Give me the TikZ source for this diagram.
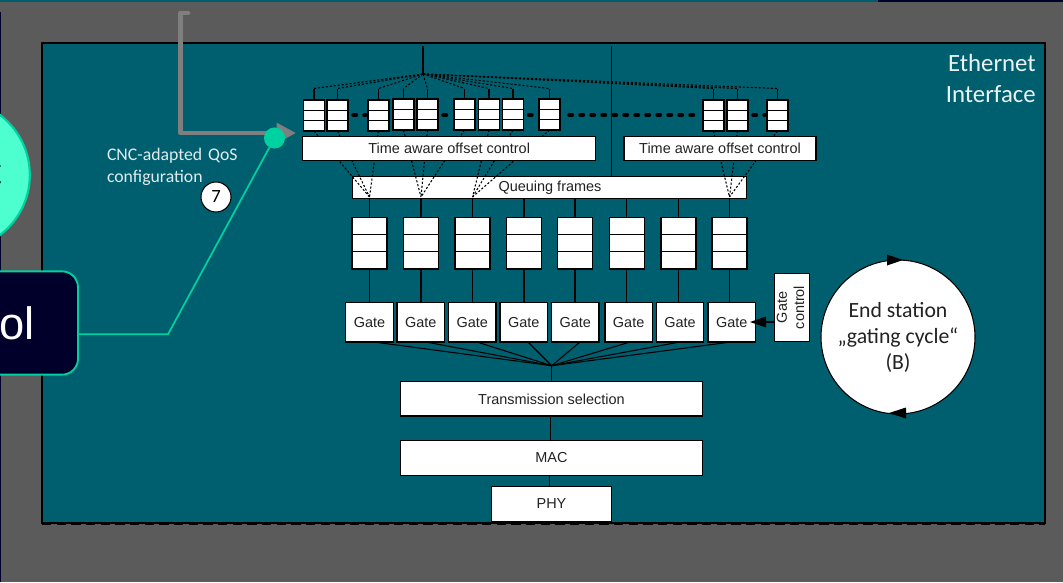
\documentclass[tikz,border=0pt]{standalone}
\usepackage{fontspec}
\setmainfont{Liberation Sans}
\newfontfamily\carl{Carlito}
\usetikzlibrary{calc,arrows.meta}
\definecolor{bgg}{HTML}{5B5B5B}
\definecolor{panel}{HTML}{005F6E}
\definecolor{navy}{HTML}{00002A}
\definecolor{mint}{HTML}{00D1A0}
\definecolor{mintf}{HTML}{4DFFCF}
\definecolor{gry}{HTML}{7F7F7F}
\definecolor{ink}{HTML}{222222}
\tikzset{
  wbox/.style={draw=black,fill=white,line width=.8pt,inner sep=0pt,outer sep=0pt,text=ink,font=\fontsize{10.85}{12}\selectfont,align=center},
  wire/.style={draw=black,line width=.8pt},
  dots/.style={draw=black,line width=.8pt,dash pattern=on 1.6pt off 1.4pt},
  thickdots/.style={draw=black,line width=2.6pt,line cap=round,dash pattern=on 2.6pt off 5.65pt},
  labeltext/.style={inner sep=0pt,outer sep=0pt,font=\carl\fontsize{13.3}{16.5}\selectfont,text=white!88!panel,align=left},
}
\newcommand{\bx}[6]{%
  \pgfmathsetlengthmacro{\bw}{(#4-#2)*0.75pt}%
  \pgfmathsetlengthmacro{\bh}{(#5-#3)*0.75pt}%
  \node[wbox,minimum width=\bw,minimum height=\bh] (#1) at ({(#2+#4)/2},{(#3+#5)/2}) {#6};}
\newcommand{\qsep}[1]{%
  \draw[wire] ($(#1.north west)!1/3!(#1.south west)$) -- ($(#1.north east)!1/3!(#1.south east)$);
  \draw[wire] ($(#1.north west)!2/3!(#1.south west)$) -- ($(#1.north east)!2/3!(#1.south east)$);}
% small queue: name, left, top
\newcommand{\sq}[3]{\bx{#1}{#2}{#3}{#2+21}{#3+31}{}\qsep{#1}}
\begin{document}
\begin{tikzpicture}[x=0.75pt,y=-0.75pt]
\useasboundingbox (0,0) rectangle (1063,582);
\fill[bgg] (0,0) rectangle (1063,582);
\fill[panel] (0,0) rectangle (878,2);
\fill[navy] (878,0) rectangle (1063,2);
\fill[navy] (0,12) rectangle (1,582);
% left partial shapes
\node[draw=mint,fill=mintf,line width=1.6pt,circle,minimum size=113pt,inner sep=0pt] (cnc) at (-45.5,175) {};
\node[anchor=east,inner sep=0pt,font=\fontsize{32}{36}\selectfont,text=navy] (cncl) at (4,175) {C};
% interface panel
\fill[panel] (42,43) rectangle (1045,523);
\draw[black,line width=.8pt] (42,43) rectangle (1045,523);
\draw[black,line width=1pt,dash pattern=on 7pt off 4pt] (42,524) -- (1045,524);
\node[anchor=north east,inner sep=0pt,font=\carl\fontsize{18.6}{23}\selectfont,text=white!92!panel,align=right] (eth) at (1036,54) {Ethernet\\Interface};
% feed line
\coordinate (stub) at (188,13);
\coordinate (corner1) at (180.5,13);
\coordinate (corner2) at (180.5,133);
\coordinate (feedtip) at (296,133);
\draw[gry,line width=3.4pt,line cap=round,line join=round,-{Triangle[length=14.5pt,width=14.5pt]}] (stub) -- (corner1) -- (corner2) -- (feedtip);
% vertical separators
\coordinate (apex) at (423,74);
\coordinate (apextop) at (423,46);
\coordinate (sptop) at (611.5,46);
\draw[wire] (apextop) -- (apex);
% queuing frames first, dashed lines over it
\bx{qf}{352.7}{176.7}{746.7}{198.7}{}
\node[inner sep=0pt,text=ink,font=\fontsize{10.85}{12}\selectfont] (qftext) at (550,187.5) {Queuing frames};
\draw[wire] (sptop) -- (sptop |- qf.north);
% big queues
\foreach \n/\xx in {1/352,2/403.5,3/455,4/506.5,5/557.5,6/609.3,7/661,8/712}{
  \bx{b\n}{\xx}{217.7}{\xx+35}{269}{}
  \qsep{b\n}
  \draw[wire] (b\n.north) -- (b\n.north |- qf.south);
}
% apexes on the queuing frames
\coordinate (a1) at (369.5,197);
\coordinate (a2) at (421,197);
\coordinate (a3) at (472.5,197);
\coordinate (a4) at (729.5,197);
% small queues
\foreach \n/\xx/\yy/\ap in {1/303.5/100/a1,2/327/100/a1,3/368/100/a1,4/393/99/a2,5/417/99/a2,6/454/99/a2,7/478.5/99/a3,8/502.5/99/a3,9/539/99/a3,10/703/100/a4,11/727/100/a4,12/767/100/a4}{
  \pgfmathsetmacro{\tcx}{\xx+10.5}
  \coordinate (t\n) at (\tcx,88.5);
  \coordinate (u\n) at (\tcx,\yy+31);
  \draw[dots] (apex) -- (t\n);
  \draw[dots] (u\n) -- (\ap);
  \draw[wire] (t\n) -- (\tcx,\yy);
}
% offset control boxes
\bx{to1}{302.7}{136.7}{595.7}{160.3}{Time aware offset control}
\bx{to2}{624}{136.7}{816}{160.3}{Time aware offset control}
\foreach \n/\xx/\yy in {1/303.5/100,2/327/100,3/368/100,4/393/99,5/417/99,6/454/99,7/478.5/99,8/502.5/99,9/539/99,10/703/100,11/727/100,12/767/100}{
  \sq{s\n}{\xx}{\yy}
}
% thick dots
\coordinate (dy) at (0,115);
\draw[thickdots] ($(s2.east |- dy)+(5,0)$) -- ($(s3.west |- dy)+(-2,0)$);
\draw[thickdots] ($(s5.east |- dy)+(5,0)$) -- ($(s6.west |- dy)+(-2,0)$);
\draw[thickdots] ($(s8.east |- dy)+(5,0)$) -- ($(s9.west |- dy)+(-2,0)$);
\draw[thickdots] ($(s9.east |- dy)+(9,0)$) -- ($(s10.west |- dy)+(-8,0)$);
\draw[thickdots] ($(s11.east |- dy)+(5,0)$) -- ($(s12.west |- dy)+(-2,0)$);
% gates
\coordinate (fan) at (551.7,365.7);
\foreach \n/\xa/\xb/\fx in {1/345.7/393.3/374,2/397/444.7/426,3/448.7/496/477,4/500/547.5/528,5/551.5/599/580,6/605/652.3/630,7/656.3/703.7/680,8/708/755.5/731}{
  \bx{g\n}{\xa}{302.3}{\xb}{342}{Gate}
  \draw[wire] (b\n.south) -- (b\n.south |- g\n.north);
  \draw[wire] (\fx,342) -- (fan);
}
% lower stack
\bx{ts}{400.7}{381.7}{702.3}{416}{Transmission selection}
\bx{mac}{400.7}{440.7}{702.3}{475.3}{MAC}
\bx{phy}{491.7}{486.7}{611.3}{521.3}{PHY}
\draw[wire] (fan) -- (fan |- ts.north);
\draw[wire] (550.5,416) -- (550.5,440.7);
\draw[wire] (549.5,475.3) -- (549.5,486.7);
% gate control
\bx{gc}{774.7}{273.3}{809.3}{341.7}{\rotatebox{90}{\fontsize{10.85}{13}\selectfont\begin{tabular}{@{}c@{}}Gate\\control\end{tabular}}}
\coordinate (gctip) at (750,322);
\draw[black,line width=.8pt,-{Triangle[length=12pt,width=8pt]}] (gc.west |- gctip) -- (gctip);
% gating cycle
\node[draw=black,fill=white,circle,line width=.8pt,minimum size=115.5pt,inner sep=0pt,outer sep=0pt,align=center,text=ink,font=\carl\fontsize{16.3}{19.5}\selectfont] (cyc) at (898,337) {End station\\„gating cycle“\\(B)};
\coordinate (cytopt) at (903,260);
\coordinate (cybott) at (889,413);
\fill[black] (887,254.5) -- (cytopt) -- (887,265.5) -- cycle;
\fill[black] (906,407.5) -- (cybott) -- (906,418.5) -- cycle;
% control box and green connector
\node[draw=mint,fill=navy,line width=1.4pt,rounded corners=12pt,minimum width=120pt,minimum height=77.5pt,inner sep=0pt,outer sep=0pt] (ctrl) at (-2,323) {};
\node[anchor=base east,inner sep=0pt,text=white,font=\fontsize{34}{36}\selectfont] (ctrltxt) at (35,339) {ol};
\node[circle,fill=mint,minimum size=15.8pt,inner sep=0pt,outer sep=0pt] (dot) at (274.5,138) {};
\coordinate (knee) at (168,334.3);
\draw[mint,line width=1.3pt] (ctrl.east |- knee) -- (knee) -- (dot);
% label
\node[labeltext,anchor=north west,text width=110pt] (qos) at (107,148) {CNC-adapted QoS\\configuration};
\node[circle,draw=black,fill=white,line width=.8pt,minimum size=22.5pt,inner sep=0pt,text=black,font=\carl\fontsize{14}{15}\selectfont] (seven) at (216,197) {7};
\end{tikzpicture}
\end{document}
